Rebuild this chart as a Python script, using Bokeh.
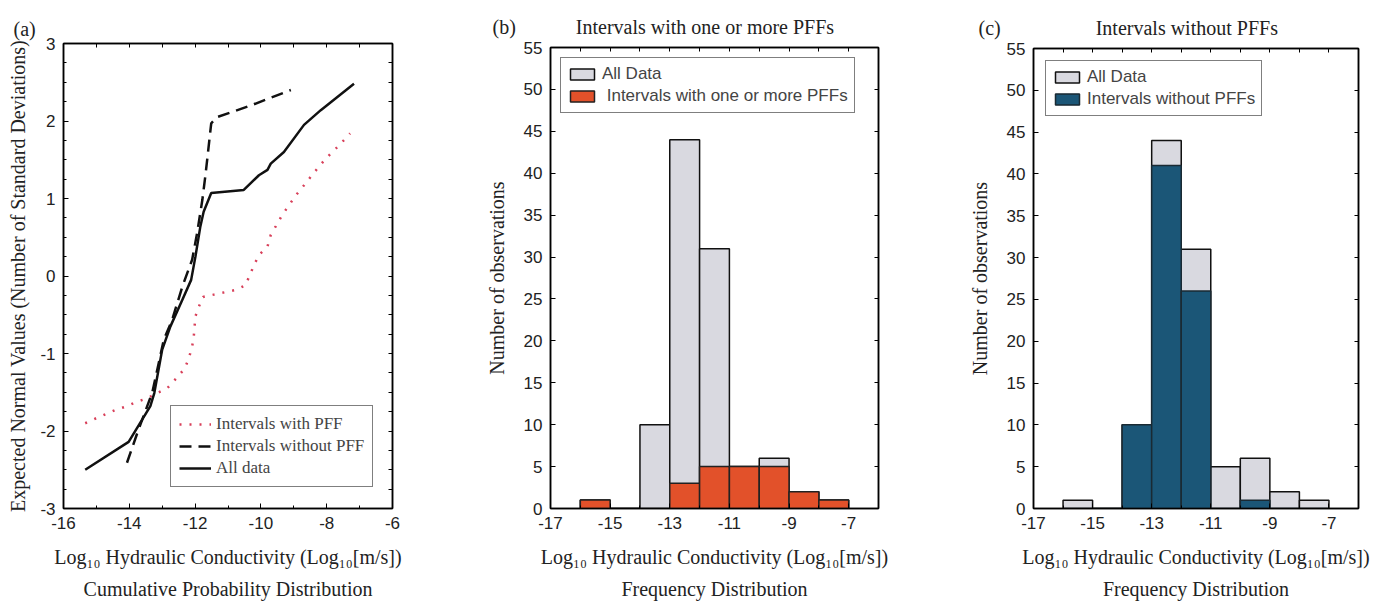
from bokeh.plotting import figure
from bokeh.layouts import row, column
from bokeh.models import (LinearAxis, FixedTicker, Legend, LegendItem, Title, Range1d)
from bokeh.embed import file_html
from bokeh.resources import INLINE

# ---------------- data ----------------
# Panel (a): normal probability plot
all_x = [-15.34, -14.02, -13.36, -13.24, -13.0, -12.75, -12.39, -12.12, -11.99, -11.84, -11.74,
         -11.51, -10.52, -10.06, -9.80, -9.70, -9.30, -8.69, -8.18, -7.17]
all_y = [-2.50, -2.14, -1.68, -1.51, -0.95, -0.65, -0.31, -0.05, 0.25, 0.64, 0.83,
         1.07, 1.11, 1.30, 1.37, 1.45, 1.60, 1.95, 2.14, 2.48]

nopff_x = [-14.07, -13.76, -13.30, -12.95, -12.70, -12.39, -12.09, -11.94, -11.78, -11.68,
           -11.51, -11.33, -10.31, -9.09]
nopff_y = [-2.41, -2.03, -1.50, -0.82, -0.57, -0.14, 0.21, 0.55, 0.98, 1.32,
           1.97, 2.05, 2.20, 2.40]

pff_x = [-15.34, -14.98, -14.43, -14.07, -13.76, -13.46, -13.15, -12.85, -12.57, -12.31, -12.19,
         -12.09, -12.04, -11.99, -11.89, -11.76, -11.43, -10.77, -10.47, -10.36, -10.21, -10.06,
         -9.80, -9.70, -9.55, -9.35, -9.15, -8.94, -8.69, -8.43, -8.18, -7.90, -7.59, -7.29]
pff_y = [-1.90, -1.83, -1.73, -1.68, -1.62, -1.58, -1.51, -1.45, -1.32, -1.19, -1.06,
         -0.91, -0.78, -0.52, -0.40, -0.27, -0.24, -0.18, -0.12, -0.01, 0.14, 0.27,
         0.38, 0.53, 0.64, 0.79, 0.91, 1.04, 1.17, 1.31, 1.44, 1.57, 1.70, 1.84]

# Panels (b), (c): histograms (bin left edges, width 1)
bin_left = [-16, -15, -14, -13, -12, -11, -10, -9, -8]
all_counts = [1, 0, 10, 44, 31, 5, 6, 2, 1]
pff_counts = [1, 0, 0, 3, 5, 5, 5, 2, 1]
nopff_counts = [0, 0, 10, 41, 26, 0, 1, 0, 0]
bin_right = [b + 1 for b in bin_left]
zeros = [0] * len(bin_left)

# tick labels
a_xticks = [-16, -14, -12, -10, -8, -6]
a_yticks = [-3, -2, -1, 0, 1, 2, 3]
h_xticks = [-17, -15, -13, -11, -9, -7]
h_yticks = [0, 5, 10, 15, 20, 25, 30, 35, 40, 45, 50, 55]

SERIF = "Liberation Serif"
SANS = "Liberation Sans"
XLABEL = "Log\u2081\u2080 Hydraulic Conductivity (Log\u2081\u2080[m/s])"
NB = "\u00a0"

GRAY = "#d9d9e0"
ORANGE = "#e2512a"
BLUE = "#1b5677"
TXT = "#222222"


def minor_positions(ticks, n):
    out = []
    for a, b in zip(ticks[:-1], ticks[1:]):
        step = (b - a) / n
        out += [a + step * k for k in range(n + 1)]
    return sorted(set(out))


def style(p, xticks, xminor, yticks, yminor, xlabel, ylabel, ylabel_standoff):
    p.outline_line_color = "black"
    p.outline_line_width = 1.5
    p.xgrid.visible = False
    p.ygrid.visible = False
    p.background_fill_color = "white"
    p.border_fill_color = "white"
    xb = p.below[0]
    yl = p.left[0]
    xb.ticker = FixedTicker(ticks=xticks, minor_ticks=minor_positions(xticks, xminor))
    yl.ticker = FixedTicker(ticks=yticks, minor_ticks=minor_positions(yticks, yminor))
    xb.major_label_overrides = {t: str(t) for t in xticks}
    yl.major_label_overrides = {t: str(t) for t in yticks}
    for ax in (xb, yl):
        ax.axis_line_color = "black"
        ax.axis_line_width = 1.5
        ax.major_tick_in = 5
        ax.major_tick_out = 0
        ax.minor_tick_in = 3
        ax.minor_tick_out = 0
        ax.major_label_text_font = SANS
        ax.major_label_text_font_size = "17px"
        ax.major_label_text_color = TXT
        ax.major_label_standoff = 8
        ax.axis_label_text_font = SERIF
        ax.axis_label_text_font_style = "normal"
        ax.axis_label_text_font_size = "20px"
        ax.axis_label_text_color = TXT
    xb.axis_label = xlabel
    yl.axis_label = ylabel
    xb.axis_label_standoff = 14
    yl.axis_label_standoff = ylabel_standoff
    # mirror axes: ticks only, no labels
    top = LinearAxis(ticker=FixedTicker(ticks=[], minor_ticks=minor_positions(xticks, xminor)),
                     minor_tick_in=4, minor_tick_out=0, major_tick_in=0, major_tick_out=0,
                     major_label_standoff=0, axis_label_standoff=0, axis_line_width=1.5)
    right = LinearAxis(ticker=FixedTicker(ticks=[], minor_ticks=minor_positions(yticks, yminor)),
                       minor_tick_in=4, minor_tick_out=0, major_tick_in=0, major_tick_out=0,
                       major_label_standoff=0, axis_label_standoff=0, axis_line_width=1.5)
    p.add_layout(top, "above")
    p.add_layout(right, "right")


def add_bottom_title(p, text):
    t = Title(text=text, align="center", text_font=SERIF, text_font_size="20px",
              text_font_style="normal", text_color=TXT, offset=0, standoff=10)
    p.add_layout(t, "below")


def style_title(p, text, offset, standoff):
    p.title.text = text
    p.title.align = "left"
    p.title.offset = offset
    p.title.standoff = standoff
    p.title.text_font = SERIF
    p.title.text_font_size = "20px"
    p.title.text_font_style = "normal"
    p.title.text_color = TXT


# ---------------- panel (a) ----------------
pa = figure(width=460, height=604, x_range=Range1d(-16, -6), y_range=Range1d(-3, 3),
            output_backend="svg", toolbar_location=None,
            min_border_left=63, min_border_right=68, min_border_top=43, min_border_bottom=95)
r_pff = pa.line(pff_x, pff_y, line_color="#d8405a", line_width=2.5, line_dash="2 8")
r_nopff = pa.line(nopff_x, nopff_y, line_color="#111111", line_width=2.5, line_dash="12 7")
r_all = pa.line(all_x, all_y, line_color="#111111", line_width=2.5)
style(pa, a_xticks, 2, a_yticks, 4, XLABEL,
      "Expected Normal Values (Number of Standard Deviations)", 8)
style_title(pa, "(a)", -50, 8)
add_bottom_title(pa, "Cumulative Probability Distribution")
leg_a = Legend(items=[LegendItem(label="Intervals with PFF", renderers=[r_pff]),
                      LegendItem(label="Intervals without PFF", renderers=[r_nopff]),
                      LegendItem(label="All data", renderers=[r_all])],
               location=(107, 21), label_text_font=SERIF, label_text_font_size="17px",
               glyph_width=32, spacing=2, padding=8, margin=0, label_height=20,
               border_line_color="black", border_line_width=1.5, background_fill_alpha=1)
pa.add_layout(leg_a, "center")

# ---------------- panel (b) ----------------
pb = figure(width=460, height=604, x_range=Range1d(-17, -6), y_range=Range1d(0, 55),
            output_backend="svg", toolbar_location=None,
            min_border_left=90, min_border_right=42, min_border_top=47, min_border_bottom=96)
g_b = pb.quad(left=bin_left, right=bin_right, bottom=zeros, top=all_counts,
              fill_color=GRAY, line_color="#111111", line_width=1.5)
o_b = pb.quad(left=bin_left, right=bin_right, bottom=zeros, top=pff_counts,
              fill_color=ORANGE, line_color="#222222", line_width=1.5)
style(pb, h_xticks, 2, h_yticks, 1, XLABEL, "Number of observations", 13)
style_title(pb, "(b)" + NB * 12 + "Intervals with one or more PFFs", -58, 19)
add_bottom_title(pb, "Frequency Distribution")
leg_b = Legend(items=[LegendItem(label="All Data", renderers=[g_b]),
                      LegendItem(label=" Intervals with one or more PFFs", renderers=[o_b])],
               location=(10, 395), label_text_font=SANS, label_text_font_size="17px",
               glyph_width=30, glyph_height=14, spacing=2, padding=6, margin=0,
               border_line_color="black", border_line_width=1.5)
pb.add_layout(leg_b, "center")

# ---------------- panel (c) ----------------
pc = figure(width=454, height=604, x_range=Range1d(-17, -6), y_range=Range1d(0, 55),
            output_backend="svg", toolbar_location=None,
            min_border_left=113, min_border_right=16, min_border_top=48, min_border_bottom=94)
g_c = pc.quad(left=bin_left, right=bin_right, bottom=zeros, top=all_counts,
              fill_color=GRAY, line_color="#111111", line_width=1.5)
b_c = pc.quad(left=bin_left, right=bin_right, bottom=zeros, top=nopff_counts,
              fill_color=BLUE, line_color="#1a2a33", line_width=1.5)
style(pc, h_xticks, 2, h_yticks, 1, XLABEL, "Number of observations", 13)
style_title(pc, "(c)" + NB * 19 + "Intervals without PFFs", -55, 20)
add_bottom_title(pc, "Frequency Distribution")
leg_c = Legend(items=[LegendItem(label="All Data", renderers=[g_c]),
                      LegendItem(label="Intervals without PFFs", renderers=[b_c])],
               location=(12, 392), label_text_font=SANS, label_text_font_size="17px",
               glyph_width=30, glyph_height=14, spacing=2, padding=6, margin=0,
               border_line_color="black", border_line_width=1.5)
pc.add_layout(leg_c, "center")

layout = row(column(pa), column(pb), column(pc))
open("out.html", "w").write(file_html(layout, INLINE))
